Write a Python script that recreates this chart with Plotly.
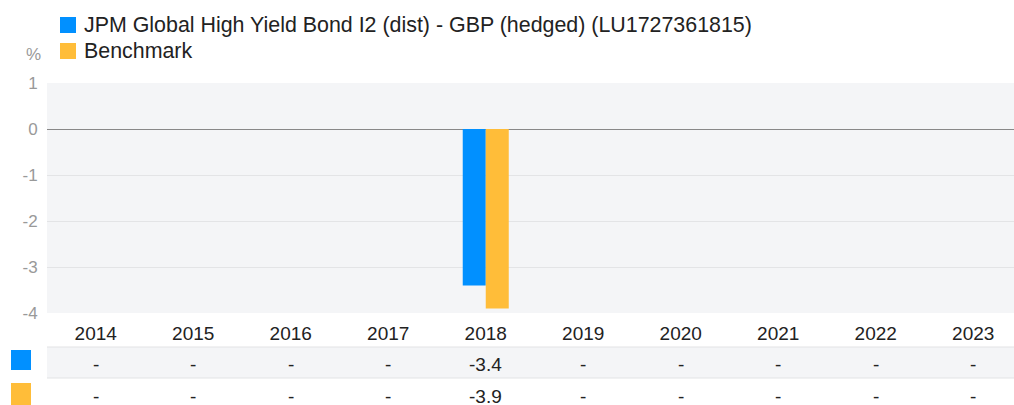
import plotly.graph_objects as go

years = ["2014", "2015", "2016", "2017", "2018", "2019", "2020", "2021", "2022", "2023"]
fund_name = "JPM Global High Yield Bond I2 (dist) - GBP (hedged) (LU1727361815)"
bench_name = "Benchmark"
fund_values = [None, None, None, None, -3.4, None, None, None, None, None]
bench_values = [None, None, None, None, -3.9, None, None, None, None, None]
y_ticks = [1, 0, -1, -2, -3, -4]

BLUE = "#0190FF"
ORANGE = "#FFBD39"
FONT = "Liberation Sans"

W, H = 1014, 405
PT, PB, PL, PR = 83, 313, 47, 1014
ph = PB - PT
pw = PR - PL
CAT_W = 97.5  # pixel width of one category slot (chart continues past the right edge)


def py(pix):
    return (PB - pix) / ph


def px(pix):
    return (pix - PL) / pw


fig = go.Figure()
fig.add_trace(go.Bar(x=years, y=fund_values, name=fund_name, marker=dict(color=BLUE, line=dict(width=0))))
fig.add_trace(go.Bar(x=years, y=bench_values, name=bench_name, marker=dict(color=ORANGE, line=dict(width=0))))

shapes = []
annotations = []

# table background and lines
shapes.append(dict(type="rect", xref="paper", yref="paper", x0=0, x1=1, y0=py(378), y1=py(347),
                   fillcolor="#f4f5f7", line=dict(width=0), layer="below"))
for yl in (347, 378):
    shapes.append(dict(type="line", xref="paper", yref="paper", x0=0, x1=1, y0=py(yl), y1=py(yl),
                       line=dict(color="#e2e3e5", width=1)))
# table legend squares
shapes.append(dict(type="rect", xref="paper", yref="paper", x0=px(11), x1=px(31), y0=py(370), y1=py(350),
                   fillcolor=BLUE, line=dict(width=0)))
shapes.append(dict(type="rect", xref="paper", yref="paper", x0=px(11), x1=px(31), y0=py(406), y1=py(383),
                   fillcolor=ORANGE, line=dict(width=0)))


def fmt(v):
    return "-" if v is None else f"{v:.1f}"


for i, (fv, bv) in enumerate(zip(fund_values, bench_values)):
    annotations.append(dict(x=i, xref="x", yref="paper", y=py(364.5), text=fmt(fv), showarrow=False,
                            font=dict(family=FONT, size=19, color="#222"), xanchor="center", yanchor="middle"))
    annotations.append(dict(x=i, xref="x", yref="paper", y=py(396), text=fmt(bv), showarrow=False,
                            font=dict(family=FONT, size=19, color="#222"), xanchor="center", yanchor="middle"))

# top legend
for i, (name, col) in enumerate([(fund_name, BLUE), (bench_name, ORANGE)]):
    cy = 25 + i * 26
    shapes.append(dict(type="rect", xref="paper", yref="paper", x0=px(60), x1=px(76), y0=py(cy + 8), y1=py(cy - 8),
                       fillcolor=col, line=dict(width=0)))
    annotations.append(dict(x=px(82), y=py(cy), xref="paper", yref="paper", text=name, showarrow=False,
                            xanchor="left", yanchor="middle", font=dict(family=FONT, size=21.4, color="#222")))

annotations.append(dict(x=px(43), y=py(54), xref="paper", yref="paper", text="%", showarrow=False,
                        xanchor="right", yanchor="middle", font=dict(family=FONT, size=17, color="#999")))

fig.update_layout(
    width=W, height=H,
    margin=dict(l=PL, r=W - PR, t=PT, b=H - PB, pad=0, autoexpand=False),
    paper_bgcolor="white", plot_bgcolor="#f4f5f7",
    barmode="group", bargap=0.528, bargroupgap=0,
    showlegend=False,
    shapes=shapes, annotations=annotations,
    font=dict(family=FONT),
)
fig.update_yaxes(range=[-4, 1], tickvals=y_ticks, ticktext=[str(t) for t in y_ticks],
                 gridcolor="#e3e4e6", gridwidth=1, zeroline=True, zerolinecolor="#888", zerolinewidth=1,
                 tickfont=dict(family=FONT, size=17, color="#999"), ticks="outside", ticklen=5,
                 tickcolor="rgba(0,0,0,0)", showline=False, fixedrange=True)
fig.update_xaxes(type="category", categoryorder="array", categoryarray=years,
                 range=[-0.5, -0.5 + pw / CAT_W],
                 showgrid=False, showline=False, ticks="outside", ticklen=3, tickcolor="rgba(0,0,0,0)",
                 tickfont=dict(family=FONT, size=19, color="#222"), fixedrange=True)

fig.write_html("out.html", config={"displayModeBar": False},
               post_script="document.body.style.margin='0';document.body.style.overflow='hidden';")
